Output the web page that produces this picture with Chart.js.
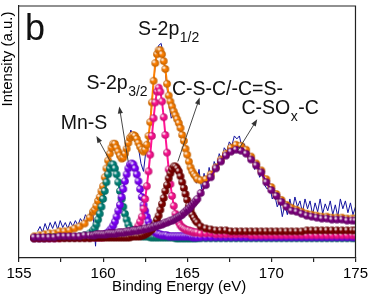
<!DOCTYPE html>
<html>
<head>
<meta charset="utf-8">
<script src="https://cdn.jsdelivr.net/npm/chart.js@4.4.0/dist/chart.umd.min.js"></script>
<style>
  html, body { margin: 0; padding: 0; background: #fff; }
</style>
</head>
<body>
<canvas id="xpsChart" width="371" height="299"></canvas>
<script>
// binding energy grid of the fitted curves (eV)
const energy = [
  155.9, 156.2, 156.5, 156.8, 157.1, 157.4, 157.7, 158.0, 158.3, 158.6, 158.9, 159.2,
  159.4, 159.5, 159.6, 159.7, 159.8, 159.9,
  160.0, 160.1, 160.2, 160.3, 160.4, 160.5, 160.6, 160.7, 160.8, 160.9,
  161.0, 161.1, 161.2, 161.3, 161.4, 161.5, 161.6, 161.7, 161.8, 161.9,
  162.0, 162.1, 162.2, 162.3, 162.4, 162.5, 162.6, 162.7, 162.8, 162.9,
  163.0, 163.1, 163.2, 163.3, 163.4, 163.5, 163.6, 163.7, 163.8, 163.9,
  164.0, 164.1, 164.2, 164.3, 164.4, 164.5, 164.6, 164.7, 164.8, 164.9,
  165.0, 165.1, 165.2, 165.3, 165.4, 165.5, 165.6,
  165.8, 166.1, 166.4, 166.7, 167.0, 167.3, 167.6, 167.9, 168.2, 168.5, 168.8, 169.1,
  169.4, 169.7, 170.0, 170.3, 170.6, 170.9, 171.2, 171.5, 171.8, 172.1, 172.4, 172.7,
  173.0, 173.3, 173.6, 173.9, 174.2, 174.5, 174.8, 175.0
]

const mnS = [
  20, 20, 20, 21, 21, 21, 21, 21, 21, 22, 23, 25,
  28, 30, 34, 39, 45, 52,
  60, 68, 77, 85, 91, 95, 95, 91, 85, 77,
  68, 60, 52, 45, 39, 34, 30, 28, 26, 25,
  24, 23, 23, 22, 22, 22, 22, 22, 21, 21,
  21, 21, 21, 21, 21, 21, 21, 21, 21, 21,
  21, 21, 21, 20, 20, 20, 20, 20, 20, 20,
  20, 20, 20, 20, 20, 20, 20,
  20, 20, 20, 20, 20, 20, 20, 20, 20, 20, 20, 20,
  20, 20, 20, 20, 20, 20, 20, 20, 20, 20, 20, 20,
  20, 20, 20, 20, 20, 20, 20, 20
]

const s2p32 = [
  20, 20, 20, 20, 20, 21, 21, 21, 21, 21, 21, 21,
  22, 22, 22, 22, 23, 23,
  23, 24, 25, 26, 28, 30, 33, 37, 42, 48,
  54, 62, 70, 78, 85, 91, 95, 96, 95, 91,
  85, 78, 70, 62, 54, 48, 42, 37, 33, 30,
  28, 26, 25, 24, 24, 23, 23, 23, 23, 22,
  22, 22, 22, 22, 22, 22, 22, 22, 22, 22,
  22, 22, 22, 21, 21, 21, 21,
  21, 21, 21, 21, 21, 21, 21, 21, 21, 21, 21, 21,
  21, 21, 21, 21, 21, 21, 21, 21, 21, 21, 21, 21,
  21, 21, 21, 21, 21, 21, 21, 21
]

const s2p12 = [
  20, 20, 20, 20, 20, 20, 21, 21, 21, 21, 21, 21,
  21, 21, 21, 21, 21, 21,
  21, 22, 22, 22, 22, 22, 22, 22, 22, 23,
  23, 23, 23, 24, 24, 25, 25, 26, 27, 28,
  30, 33, 37, 42, 50, 60, 73, 88, 105, 124,
  142, 158, 169, 173, 169, 159, 143, 125, 107, 90,
  75, 63, 53, 45, 40, 36, 33, 31, 30, 29,
  28, 28, 27, 27, 26, 26, 26,
  25, 25, 25, 24, 24, 24, 24, 24, 24, 24, 23, 23,
  23, 23, 23, 23, 23, 23, 23, 23, 23, 23, 23, 23,
  23, 23, 23, 23, 23, 23, 23, 23
]

const csc = [
  20, 20, 20, 20, 20, 20, 20, 20, 20, 20, 20, 20,
  21, 21, 21, 21, 21, 21,
  21, 21, 21, 21, 21, 21, 21, 21, 21, 21,
  21, 21, 21, 21, 21, 21, 21, 22, 22, 22,
  22, 22, 22, 23, 23, 24, 25, 26, 28, 29,
  32, 35, 39, 43, 49, 55, 61, 68, 74, 81,
  86, 90, 93, 93, 91, 88, 83, 77, 71, 65,
  59, 53, 49, 44, 41, 38, 36,
  32, 30, 29, 28, 28, 28, 27, 27, 27, 27, 27, 27,
  27, 27, 27, 27, 27, 27, 27, 27, 27, 28, 28, 28,
  28, 28, 28, 28, 28, 28, 28, 28
]

const csox = [
  21, 21, 21, 21, 21, 22, 22, 22, 22, 22, 23, 23,
  23, 23, 24, 24, 24, 24,
  24, 24, 24, 25, 25, 25, 25, 25, 25, 26,
  26, 26, 26, 26, 27, 27, 27, 27, 28, 28,
  28, 28, 29, 29, 29, 30, 30, 30, 31, 31,
  32, 32, 33, 33, 34, 34, 35, 36, 36, 37,
  38, 38, 39, 40, 41, 42, 43, 44, 46, 47,
  49, 50, 52, 54, 56, 58, 60,
  66, 74, 82, 91, 98, 104, 108, 110, 109, 106, 100, 94,
  87, 77, 69, 63, 57, 52, 48, 47, 45, 43, 42, 41,
  40, 40, 39, 39, 39, 38, 38, 38
]

const envelope = [
  22, 23, 24, 25, 25, 27, 27, 28, 30, 32, 35, 41,
  47, 49, 53, 58, 62, 68,
  73, 82, 91, 99, 106, 112, 116, 116, 112, 108,
  104, 101, 102, 106, 111, 117, 122, 124, 125, 124,
  121, 117, 113, 110, 108, 110, 115, 124, 138, 158,
  180, 198, 207, 211, 211, 207, 200, 192, 177, 165,
  159, 154, 149, 145, 141, 137, 132, 125, 119, 111,
  105, 98, 92, 88, 85, 83, 80,
  79, 80, 85, 92, 100, 106, 112, 115, 114, 110, 103, 96,
  89, 80, 72, 65, 59, 54, 51, 49, 47, 45, 44, 43,
  42, 42, 41, 41, 41, 40, 40, 40
]

// measured spectrum
const rawEnergy = [
  156.1, 156.25, 156.4, 156.55, 156.7, 156.85, 157.0, 157.15, 157.3, 157.45,
  157.6, 157.75, 157.9, 158.05, 158.2, 158.35, 158.5, 158.65, 158.8, 158.95,
  159.1, 159.25, 159.4, 159.55, 159.7, 159.85, 160.0, 160.15, 160.3, 160.45,
  160.6, 160.75, 160.9, 161.05, 161.2, 161.35, 161.5, 161.65, 161.8, 161.95,
  162.1, 162.25, 162.4, 162.55, 162.7, 162.85, 163.0, 163.15, 163.3, 163.45,
  163.6, 163.75, 163.9, 164.05, 164.2, 164.35, 164.5, 164.65, 164.8, 164.95,
  165.1, 165.25, 165.4, 165.55, 165.7, 165.85, 166.0, 166.15, 166.3, 166.45,
  166.6, 166.75, 166.9, 167.05, 167.2, 167.35, 167.5, 167.65, 167.8, 167.95,
  168.1, 168.25, 168.4, 168.55, 168.7, 168.85, 169.0, 169.15, 169.3, 169.45,
  169.6, 169.75, 169.9, 170.05, 170.2, 170.35, 170.5, 170.65, 170.8, 170.95,
  171.1, 171.25, 171.4, 171.55, 171.7, 171.85, 172.0, 172.15, 172.3, 172.45,
  172.6, 172.75, 172.9, 173.05, 173.2, 173.35, 173.5, 173.65, 173.8, 173.95,
  174.1, 174.25, 174.4, 174.55, 174.7, 174.85, 175.0
]

const rawCounts = [
  27, 32, 26, 35, 28, 36, 30, 37, 29, 38,
  31, 36, 30, 37, 32, 38, 33, 40, 36, 44,
  40, 47, 44, 12, 60, 68, 75, 88, 100, 112,
  118, 117, 106, 108, 98, 112, 120, 130, 122, 127,
  112, 96, 88, 110, 118, 150, 178, 205, 216, 218,
  203, 180, 158, 142, 146, 138, 132, 126, 114, 104,
  94, 86, 80, 76, 90, 70, 86, 72, 92, 80,
  98, 92, 106, 99, 112, 108, 118, 114, 124, 121,
  124, 112, 116, 104, 98, 104, 90, 96, 82, 86,
  74, 70, 74, 60, 64, 52, 58, 42, 54, 44,
  60, 48, 62, 52, 58, 46, 60, 50, 58, 44,
  56, 47, 60, 45, 55, 48, 58, 44, 54, 42,
  60, 50, 58, 46, 56, 44, 52
]

const xTicks = [155, 160, 165, 170, 175]

const FONT = '"Liberation Sans", Arial, sans-serif'

// shiny ball marker
const ball = (color, r) => {
  const c = document.createElement('canvas')
  const s = Math.ceil(r * 2 + 2)
  c.width = s
  c.height = s
  const g = c.getContext('2d')
  const m = s / 2
  g.beginPath()
  g.arc(m, m, r, 0, Math.PI * 2)
  g.fillStyle = color
  g.fill()
  const shade = g.createRadialGradient(m, m, r * 0.3, m, m, r)
  shade.addColorStop(0, 'rgba(0,0,0,0)')
  shade.addColorStop(1, 'rgba(0,0,0,0.25)')
  g.fillStyle = shade
  g.fill()
  const hi = g.createRadialGradient(m - r * 0.35, m - r * 0.35, 0, m - r * 0.35, m - r * 0.35, r * 0.55)
  hi.addColorStop(0, 'rgba(255,255,255,1)')
  hi.addColorStop(0.5, 'rgba(255,255,255,0.6)')
  hi.addColorStop(1, 'rgba(255,255,255,0)')
  g.fillStyle = hi
  g.fill()
  return c
}

const pts = (xs, ys) => xs.map((e, i) => ({ x: e, y: ys[i] }))

const fitSet = (label, values, color) => ({
  label,
  data: pts(energy, values),
  borderColor: color,
  backgroundColor: color,
  borderWidth: 2,
  pointStyle: ball(color, 3.8),
  pointRadius: 4,
  tension: 0
})

const notes = [
  { text: 'b', e: 155.354, v: 221, size: 36 },
  { text: 'S-2p', sub: '1/2', e: 162.08, v: 227 },
  { text: 'S-2p', sub: '3/2', e: 159.01, v: 172 },
  { text: 'Mn-S', e: 157.48, v: 131 },
  { text: 'C-S-C/-C=S-', e: 164.09, v: 166 },
  { text: 'C-SO', sub: 'x', after: '-C', e: 168.22, v: 146 }
]

const arrows = [
  { from: [160.43, 98], to: [159.60, 124] },
  { from: [161.49, 98], to: [160.96, 154] },
  { from: [164.44, 98], to: [165.74, 163] },
  { from: [168.04, 110], to: [169.16, 141] }
]

const notesPlugin = {
  id: 'notes',
  afterDatasetsDraw(chart) {
    const { ctx, chartArea: a, scales: { x, y } } = chart
    ctx.save()

    // top and right frame
    ctx.strokeStyle = '#222'
    ctx.lineWidth = 1.2
    ctx.beginPath()
    ctx.moveTo(a.left, a.top)
    ctx.lineTo(a.right, a.top)
    ctx.lineTo(a.right, a.bottom)
    ctx.stroke()

    // arrows
    ctx.strokeStyle = '#333'
    ctx.fillStyle = '#333'
    ctx.lineWidth = 0.9
    arrows.forEach(ar => {
      const x0 = x.getPixelForValue(ar.from[0])
      const y0 = y.getPixelForValue(ar.from[1])
      const x1 = x.getPixelForValue(ar.to[0])
      const y1 = y.getPixelForValue(ar.to[1])
      const ang = Math.atan2(y1 - y0, x1 - x0)
      const c = Math.cos(ang)
      const s = Math.sin(ang)
      ctx.beginPath()
      ctx.moveTo(x0, y0)
      ctx.lineTo(x1 - 4 * c, y1 - 4 * s)
      ctx.stroke()
      const bx = x1 - 7 * c
      const by = y1 - 7 * s
      ctx.beginPath()
      ctx.moveTo(x1, y1)
      ctx.lineTo(bx - 2.6 * s, by + 2.6 * c)
      ctx.lineTo(bx + 2.6 * s, by - 2.6 * c)
      ctx.closePath()
      ctx.fill()
    })

    // labels
    ctx.fillStyle = '#111'
    ctx.textBaseline = 'alphabetic'
    ctx.textAlign = 'left'
    notes.forEach(n => {
      let px = x.getPixelForValue(n.e)
      const py = y.getPixelForValue(n.v)
      ctx.font = (n.size || 19.5) + 'px ' + FONT
      ctx.fillText(n.text, px, py)
      px += ctx.measureText(n.text).width
      if (n.sub) {
        ctx.font = '14px ' + FONT
        ctx.fillText(n.sub, px + 0.5, py + 7)
        px += ctx.measureText(n.sub).width + 1
      }
      if (n.after) {
        ctx.font = (n.size || 19.5) + 'px ' + FONT
        ctx.fillText(n.after, px, py)
      }
    })

    // axis titles
    ctx.font = '15px ' + FONT
    ctx.fillStyle = '#000'
    ctx.textAlign = 'center'
    ctx.fillText('Binding Energy (eV)', (a.left + a.right) / 2 - 8, a.bottom + 33)
    ctx.translate(8, a.top + 53)
    ctx.rotate(-Math.PI / 2)
    ctx.textBaseline = 'middle'
    ctx.fillText('Intensity (a.u.)', 0, 0)

    ctx.restore()
  }
}

new Chart(document.getElementById('xpsChart'), {
  type: 'line',
  data: {
    datasets: [
      fitSet('C-SOx-C', csox, '#800080'),
      fitSet('C-S-C/-C=S-', csc, '#800000'),
      fitSet('S-2p1/2', s2p12, '#ff1493'),
      fitSet('S-2p3/2', s2p32, '#7f00ff'),
      fitSet('Mn-S', mnS, '#00857a'),
      fitSet('Envelope', envelope, '#ff8000'),
      {
        label: 'Raw',
        data: pts(rawEnergy, rawCounts),
        borderColor: '#1414a0',
        borderWidth: 1,
        pointRadius: 0,
        tension: 0
      }
    ]
  },
  options: {
    responsive: false,
    animation: false,
    events: [],
    layout: { padding: { top: 2, right: 13, left: 0, bottom: 0 } },
    plugins: {
      legend: { display: false },
      tooltip: { enabled: false }
    },
    scales: {
      x: {
        type: 'linear',
        min: 155,
        max: 175,
        afterFit: s => { s.height = 41 },
        ticks: {
          stepSize: 2.5,
          autoSkip: false,
          maxRotation: 0,
          padding: 3,
          color: '#000',
          font: { family: FONT, size: 15 },
          callback: v => (xTicks.includes(v) ? String(v) : '')
        },
        grid: { drawOnChartArea: false, tickLength: 4, color: '#222', lineWidth: 1.2 },
        border: { display: true, color: '#222', width: 1.2 }
      },
      y: {
        min: 0,
        max: 256,
        afterFit: s => { s.width = 19 },
        ticks: { display: false },
        grid: { display: false, drawTicks: false },
        border: { display: true, color: '#222', width: 1.2 }
      }
    }
  },
  plugins: [notesPlugin]
})
</script>
</body>
</html>
